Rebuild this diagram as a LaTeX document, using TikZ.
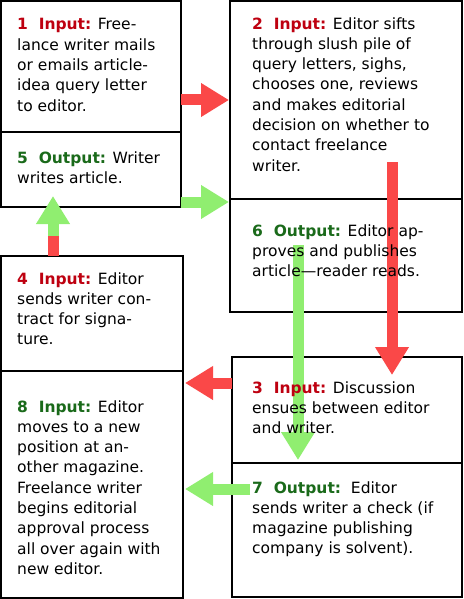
\documentclass[tikz,border=0pt]{standalone}
\usepackage{fontspec}
\setmainfont{DejaVu Sans}
\usetikzlibrary{arrows.meta,calc}

\definecolor{arrowred}{RGB}{250,72,72}
\definecolor{arrowgreen}{RGB}{144,238,112}
\definecolor{labelred}{RGB}{190,0,16}
\definecolor{labelgreen}{RGB}{26,106,26}

\tikzset{
	stepbox/.style={draw=black, line width=1.2pt, fill=white, inner sep=0pt, outer sep=0pt, anchor=north west},
	steptext/.style={anchor=base west, align=left, inner sep=0pt, font=\fontsize{15.5}{20.3}\selectfont},
	redshaft/.style={draw=arrowred, line width=11pt},
	redarrow/.style={draw=arrowred, line width=11pt, -{Triangle[length=28pt,width=32pt]}},
	greenarrow/.style={draw=arrowgreen, line width=11pt, -{Triangle[length=28pt,width=32pt]}}
}

\newcommand{\steplabel}[3]{\textcolor{#1}{\textbf{#2\ \ #3:}}}

\begin{document}
\begin{tikzpicture}[x=1pt,y=-1pt]

		\useasboundingbox (0,0) rectangle (463,599);

		% define boxes

		\node[stepbox, minimum width=180pt, minimum height=131pt] (b1) at (1,1) {};

		\node[stepbox, minimum width=180pt, minimum height=75pt] (b5) at (b1.south west) {};

		\node[stepbox, minimum width=232pt, minimum height=198pt] (b2) at (230,1) {};

		\node[stepbox, minimum width=232pt, minimum height=113pt] (b6) at (b2.south west) {};

		\node[stepbox, minimum width=182pt, minimum height=115pt] (b4) at (1,256) {};

		\node[stepbox, minimum width=182pt, minimum height=227pt] (b8) at (b4.south west) {};

		\node[stepbox, minimum width=230pt, minimum height=106pt] (b3) at (232,357) {};

		\node[stepbox, minimum width=230pt, minimum height=134pt] (b7) at (b3.south west) {};

		% arrows

		\draw[redarrow] ($(b1.south east)+(0,-32)$) -- ($(b2.north west)+(-1,99)$);

		\draw[greenarrow] ($(b5.south east)+(0,-5)$) -- ($(b6.north west)+(-1,3)$);

		\coordinate (j45) at ($(b4.north west)+(52,-20)$);

		\draw[redshaft] ($(b4.north west)+(52,0)$) -- (j45);

		\draw[greenarrow] (j45) -- ($(b5.south west)+(52,-11)$);

		\draw[redarrow] ($(b2.south west)+(162,-37)$) -- ($(b3.north west)+(160,18)$);

		\draw[greenarrow] ($(b6.north west)+(68,46)$) -- ($(b7.north west)+(66,-3)$);

		\draw[redarrow] ($(b3.north west)+(0,26)$) -- ($(b8.north east)+(2,12)$);

		\draw[greenarrow] ($(b7.north west)+(18,26)$) -- ($(b8.north east)+(2,118)$);

		% texts (placed at the baseline of their last line)

		\node[steptext] (t1) at ($(b1.north west)+(16,110.2)$)
		{\steplabel{labelred}{1}{Input} Free-\\lance writer mails\\or emails article-\\idea query letter\\to editor.};

		\node[steptext] (t5) at ($(b5.north west)+(16,51.3)$)
		{\steplabel{labelgreen}{5}{Output} Writer\\writes article.};

		\node[steptext] (t2) at ($(b2.north west)+(22,170.1)$)
		{\steplabel{labelred}{2}{Input} Editor sifts\\through slush pile of\\query letters, sighs,\\chooses one, reviews\\and makes editorial\\decision on whether to\\contact freelance\\writer.};

		\node[steptext] (t6) at ($(b6.north west)+(22,77.6)$)
		{\steplabel{labelgreen}{6}{Output} Editor ap-\\proves and publishes\\article—reader reads.};

		\node[steptext] (t4) at ($(b4.north west)+(16,88.9)$)
		{\steplabel{labelred}{4}{Input} Editor\\sends writer con-\\tract for signa-\\ture.};

		\node[steptext] (t8) at ($(b8.north west)+(16,203.4)$)
		{\steplabel{labelgreen}{8}{Input} Editor\\moves to a new\\position at an-\\other magazine.\\Freelance writer\\begins editorial\\approval process\\all over again with\\new editor.};

		\node[steptext] (t3) at ($(b3.north west)+(20,76.6)$)
		{\steplabel{labelred}{3}{Input} Discussion\\ensues between editor\\and writer.};

		\node[steptext] (t7) at ($(b7.north west)+(20,90.9)$)
		{\steplabel{labelgreen}{7}{Output}\ \ Editor\\sends writer a check (if\\magazine publishing\\company is solvent).};

	\end{tikzpicture}
\end{document}
